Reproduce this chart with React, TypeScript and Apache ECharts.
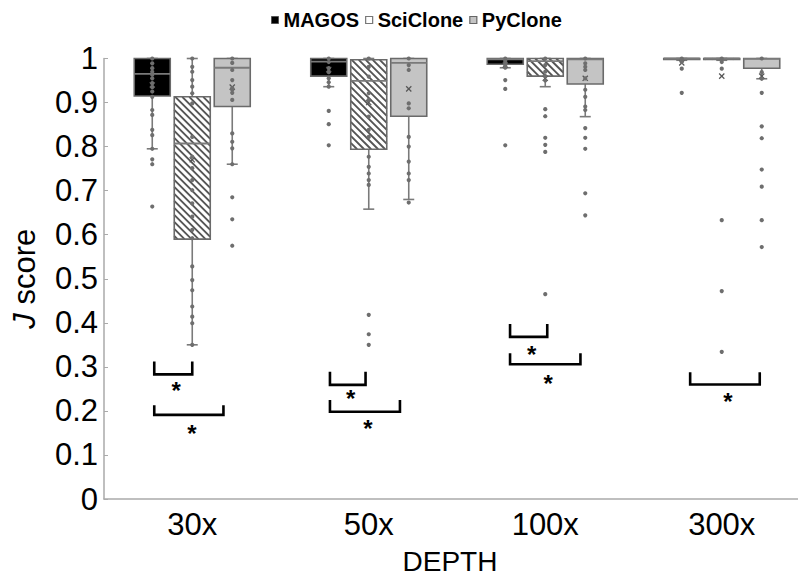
import React, { useEffect, useRef } from 'react';
import * as echarts from 'echarts';

const categories = ['30x', '50x', '100x', '300x'];
const seriesNames = ['MAGOS', 'SciClone', 'PyClone'];

// [lower whisker, Q1, median, Q3, upper whisker]
const magosBoxes = [
  [0.795, 0.915, 0.965, 1.0, 1.0],
  [0.936, 0.96, 0.993, 1.0, 1.0],
  [0.979, 0.987, 0.998, 1.0, 1.0],
  [0.996, 0.998, 1.0, 1.0, 1.0],
];
const magosMeans = [0.94, 0.975, 0.985, 0.99];
const magosPoints = [
  [1.0, 0.989, 0.978, 0.97, 0.963, 0.955, 0.944, 0.935, 0.925, 0.913, 0.883, 0.872, 0.838, 0.826, 0.795, 0.771, 0.76, 0.664],
  [1.0, 0.992, 0.978, 0.969, 0.955, 0.946, 0.936, 0.881, 0.851, 0.803],
  [1.0, 0.995, 0.99, 0.985, 0.979, 0.951, 0.931, 0.803],
  [1.0, 0.996, 0.992, 0.977, 0.922],
];

const sciBoxes = [
  [0.35, 0.59, 0.807, 0.913, 1.0],
  [0.658, 0.794, 0.949, 0.997, 1.0],
  [0.936, 0.96, 0.994, 1.0, 1.0],
  [0.996, 0.998, 1.0, 1.0, 1.0],
];
const sciMeans = [0.77, 0.9, 0.955, 0.96];
const sciPoints = [
  [1.0, 0.981, 0.97, 0.951, 0.936, 0.921, 0.898, 0.822, 0.777, 0.751, 0.724, 0.701, 0.671, 0.641, 0.611, 0.592, 0.528, 0.497, 0.474, 0.437, 0.414, 0.399, 0.35],
  [1.0, 0.981, 0.959, 0.921, 0.906, 0.868, 0.838, 0.822, 0.777, 0.754, 0.739, 0.724, 0.713, 0.418, 0.374, 0.35],
  [1.0, 0.985, 0.97, 0.96, 0.95, 0.885, 0.869, 0.82, 0.804, 0.788, 0.465],
  [1.0, 0.992, 0.977, 0.633, 0.472, 0.334],
];

const pyBoxes = [
  [0.76, 0.891, 0.979, 1.0, 1.0],
  [0.68, 0.869, 0.99, 1.0, 1.0],
  [0.868, 0.942, 0.998, 1.0, 1.0],
  [0.954, 0.978, 0.999, 1.0, 1.0],
];
const pyMeans = [0.935, 0.931, 0.955, 0.96];
const pyPoints = [
  [1.0, 0.99, 0.974, 0.951, 0.933, 0.929, 0.922, 0.906, 0.83, 0.811, 0.796, 0.76, 0.685, 0.635, 0.575],
  [1.0, 0.985, 0.974, 0.898, 0.887, 0.822, 0.8, 0.766, 0.739, 0.724, 0.673],
  [1.0, 0.989, 0.981, 0.974, 0.955, 0.929, 0.913, 0.891, 0.883, 0.842, 0.82, 0.795, 0.694, 0.644],
  [1.0, 0.969, 0.954, 0.922, 0.846, 0.819, 0.748, 0.709, 0.633, 0.572],
];

// significance brackets (from / to in box-slot units, y in J score units)
const bracketCategory = [0, 0, 1, 1, 2, 2, 3];
const bracketFrom = [-0.95, -0.95, -0.97, -0.97, -0.88, -0.88, -0.79];
const bracketTo = [0, 0.78, -0.08, 0.78, 0.05, 0.88, 0.95];
const bracketTop = [0.312, 0.213, 0.289, 0.225, 0.397, 0.331, 0.288];
const bracketBottom = [0.283, 0.191, 0.259, 0.198, 0.368, 0.306, 0.26];
const starY = [0.257, 0.159, 0.238, 0.172, 0.338, 0.274, 0.232];

const FONT = '"Liberation Sans", Arial, Helvetica, sans-serif';
const SLOT = 0.2266;
const BOXW = 0.204;

type Kind = 'black' | 'hatch' | 'grey';
const kinds: Kind[] = ['black', 'hatch', 'grey'];
const allBoxes = [magosBoxes, sciBoxes, pyBoxes];
const allMeans = [magosMeans, sciMeans, pyMeans];
const allPoints = [magosPoints, sciPoints, pyPoints];

function boxRender(slot: number, kind: Kind) {
  return (params: any, api: any) => {
    const cat = api.value(0);
    const band = api.size([1, 0])[0];
    const cx = api.coord([cat, 0])[0] + slot * SLOT * band;
    const w = BOXW * band;
    const y = (v: number) => api.coord([cat, v])[1];
    const yLow = y(api.value(1));
    const yQ1 = y(api.value(2));
    const yMed = y(api.value(3));
    const yQ3 = y(api.value(4));
    const yHigh = y(api.value(5));
    const yMean = y(api.value(6));
    const capW = 11;
    const whisk = { stroke: '#7a7a7a', lineWidth: 1.6 };
    const children: any[] = [];
    children.push({ type: 'line', shape: { x1: cx, y1: yQ1, x2: cx, y2: yLow }, style: whisk });
    children.push({ type: 'line', shape: { x1: cx, y1: yQ3, x2: cx, y2: yHigh }, style: whisk });
    children.push({ type: 'line', shape: { x1: cx - capW / 2, y1: yLow, x2: cx + capW / 2, y2: yLow }, style: whisk });
    children.push({ type: 'line', shape: { x1: cx - capW / 2, y1: yHigh, x2: cx + capW / 2, y2: yHigh }, style: whisk });
    const x0 = cx - w / 2;
    const top = yQ3;
    const h = Math.max(yQ1 - yQ3, 1);
    const fill = kind === 'black' ? '#000' : kind === 'grey' ? '#c4c4c4' : '#fff';
    children.push({ type: 'rect', shape: { x: x0, y: top, width: w, height: h }, style: { fill } });
    if (kind === 'hatch') {
      const step = 7;
      for (let c = top - (x0 + w); c <= top + h - x0; c += step) {
        const xa = Math.max(x0, top - c);
        const xb = Math.min(x0 + w, top + h - c);
        if (xb > xa) {
          children.push({ type: 'line', shape: { x1: xa, y1: xa + c, x2: xb, y2: xb + c }, style: { stroke: '#555', lineWidth: 1.9 } });
        }
      }
    }
    children.push({ type: 'rect', shape: { x: x0, y: top, width: w, height: h }, style: { fill: 'none', stroke: '#6a6a6a', lineWidth: 1.6 } });
    children.push({ type: 'line', shape: { x1: x0, y1: yMed, x2: x0 + w, y2: yMed }, style: { stroke: '#7a7a7a', lineWidth: 1.8 } });
    const m = 2.6;
    children.push({ type: 'line', shape: { x1: cx - m, y1: yMean - m, x2: cx + m, y2: yMean + m }, style: { stroke: '#555', lineWidth: 1.2 }, z2: 20 });
    children.push({ type: 'line', shape: { x1: cx - m, y1: yMean + m, x2: cx + m, y2: yMean - m }, style: { stroke: '#555', lineWidth: 1.2 }, z2: 20 });
    return { type: 'group', children };
  };
}

function pointRender(slot: number) {
  return (params: any, api: any) => {
    const cat = api.value(0);
    const band = api.size([1, 0])[0];
    const p = api.coord([cat, api.value(1)]);
    return {
      type: 'circle',
      shape: { cx: p[0] + slot * SLOT * band, cy: p[1], r: 2.1 },
      style: { fill: '#6e6e6e' },
    };
  };
}

function bracketRender(params: any, api: any) {
  const cat = api.value(0);
  const band = api.size([1, 0])[0];
  const cx = api.coord([cat, 0])[0];
  const x1 = cx + api.value(1) * SLOT * band;
  const x2 = cx + api.value(2) * SLOT * band;
  const yT = api.coord([cat, api.value(3)])[1];
  const yB = api.coord([cat, api.value(4)])[1];
  const yS = api.coord([cat, api.value(5)])[1];
  const fs = 24;
  return {
    type: 'group',
    children: [
      {
        type: 'polyline',
        shape: { points: [[x1, yT], [x1, yB], [x2, yB], [x2, yT]] },
        style: { stroke: '#000', lineWidth: 2.6, fill: 'none' },
      },
      {
        type: 'text',
        x: (x1 + x2) / 2 + 3,
        y: yS + fs * 0.2,
        style: { text: '*', fontSize: fs, fontWeight: 'bold', fontFamily: FONT, fill: '#000', align: 'center', verticalAlign: 'middle' },
      },
    ],
  };
}

export default function App() {
  const ref = useRef<HTMLDivElement>(null);
  useEffect(() => {
    document.body.style.margin = '0';
    document.body.style.overflow = 'hidden';
    const chart = echarts.init(ref.current!, null, { renderer: 'svg' });
    const series: any[] = [];
    seriesNames.forEach((name, k) => {
      const slot = k - 1;
      series.push({
        type: 'custom',
        name,
        silent: true,
        renderItem: boxRender(slot, kinds[k]),
        encode: { x: 0, y: [1, 2, 3, 4, 5] },
        data: allBoxes[k].map((b, i) => [i, ...b, allMeans[k][i]]),
        z: 2,
      });
    });
    seriesNames.forEach((name, k) => {
      const slot = k - 1;
      const data: number[][] = [];
      allPoints[k].forEach((arr, i) => arr.forEach((v) => data.push([i, v])));
      series.push({
        type: 'custom',
        name,
        silent: true,
        renderItem: pointRender(slot),
        encode: { x: 0, y: 1 },
        data,
        z: 3,
      });
    });
    series.push({
      type: 'custom',
      name: 'brackets',
      silent: true,
      renderItem: bracketRender,
      encode: { x: 0, y: [3, 4, 5] },
      data: bracketCategory.map((c, i) => [c, bracketFrom[i], bracketTo[i], bracketTop[i], bracketBottom[i], starY[i]]),
      z: 4,
    });

    chart.setOption({
      animation: false,
      backgroundColor: '#fff',
      textStyle: { fontFamily: FONT },
      legend: {
        top: 5,
        left: 266,
        itemWidth: 7,
        itemHeight: 7,
        itemGap: 6,
        selectedMode: false,
        textStyle: { fontFamily: FONT, fontSize: 20, fontWeight: 'bold', color: '#000' },
        data: [
          { name: 'MAGOS', icon: 'rect', itemStyle: { color: '#000', borderColor: '#555', borderWidth: 1 } },
          { name: 'SciClone', icon: 'rect', itemStyle: { color: '#fff', borderColor: '#777', borderWidth: 1.2 } },
          { name: 'PyClone', icon: 'rect', itemStyle: { color: '#c4c4c4', borderColor: '#666', borderWidth: 1.2 } },
        ],
      },
      grid: { left: 104, top: 58.5, right: 0, height: 440.5 },
      xAxis: {
        type: 'category',
        data: categories,
        axisLine: { lineStyle: { color: '#aaa', width: 1.5 } },
        axisTick: { show: false },
        axisLabel: { fontSize: 31, color: '#000', margin: 10, fontFamily: FONT },
        name: 'DEPTH',
        nameLocation: 'middle',
        nameGap: 48,
        nameTextStyle: { fontSize: 28, color: '#000', fontFamily: FONT, padding: [0, 14, 0, 0] },
      },
      yAxis: {
        type: 'value',
        min: 0,
        max: 1,
        interval: 0.1,
        axisLine: { show: true, lineStyle: { color: '#aaa', width: 1.5 } },
        axisTick: { show: true, inside: true, length: 4, lineStyle: { color: '#aaa' } },
        splitLine: { show: false },
        axisLabel: {
          fontSize: 31,
          color: '#000',
          margin: 6,
          fontFamily: FONT,
          formatter: (v: number) => String(Math.round(v * 10) / 10),
        },
        name: '{i|J} score',
        nameLocation: 'middle',
        nameGap: 64,
        nameRotate: 90,
        nameTextStyle: {
          fontSize: 31,
          color: '#000',
          fontFamily: FONT,
          rich: { i: { fontStyle: 'italic', fontSize: 31, fontFamily: FONT, color: '#000' } },
        },
      },
      series,
    });
    return () => chart.dispose();
  }, []);
  return (
    <div style={{ position: 'absolute', left: 0, top: 0, width: 798, height: 581, overflow: 'hidden' }}>
      <div ref={ref} style={{ width: 810, height: 581 }} />
    </div>
  );
}
